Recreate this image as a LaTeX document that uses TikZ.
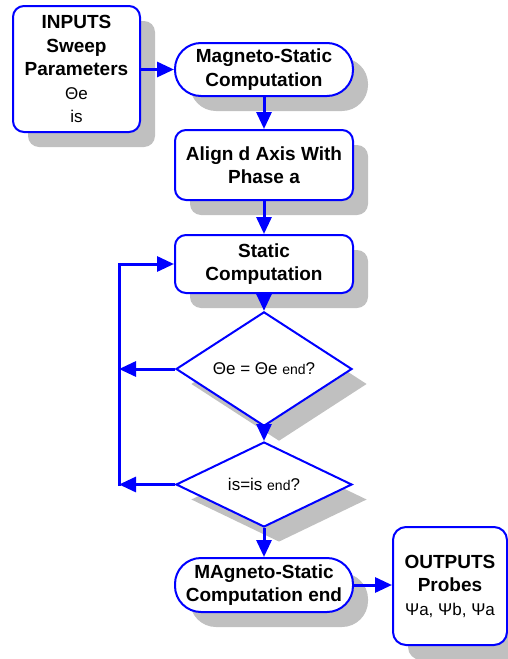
\documentclass[tikz,border=0pt]{standalone}
\usepackage{fontspec}
\setmainfont{Liberation Sans}
\usetikzlibrary{arrows.meta,shapes.geometric,shadows}
\definecolor{flowblue}{RGB}{0,0,255}
\definecolor{shadegray}{RGB}{192,192,192}
\newcommand{\plainline}{\mdseries\fontsize{17}{23.5}\selectfont}

\begin{document}
\begin{tikzpicture}[x=1pt,y=-1pt,
  shadowed/.style={drop shadow={shadow xshift=15pt,shadow yshift=-15pt,fill=shadegray,opacity=1}},
  box/.style={draw=flowblue,line width=2pt,fill=white,rounded corners=11pt,inner sep=2pt,
    align=center,shadowed,font=\fontsize{19}{23.5}\selectfont\bfseries},
  stadium/.style={box,rounded corners=26pt},
  decision/.style={diamond,draw=flowblue,line width=2pt,fill=white,inner sep=0pt,
    minimum width=176pt,minimum height=85pt,shadowed,align=center,
    font=\fontsize{17}{20}\selectfont},
  flow/.style={draw=flowblue,line width=3pt,-{Triangle[length=17pt,width=15pt]}}
]
\useasboundingbox (0,0) rectangle (508,659);

% process blocks
\node[box,minimum width=127pt,minimum height=126pt] (inp) at (76.5,69)
  {INPUTS\\Sweep\\Parameters\\\plainline Θe\\\plainline is};
\node[stadium,minimum width=178pt,minimum height=53pt] (mag) at (264,69.5)
  {Magneto-Static\\Computation};
\node[box,minimum width=178pt,minimum height=70pt] (aln) at (264,165)
  {Align d Axis With\\Phase a};
\node[box,minimum width=178pt,minimum height=58pt] (stat) at (264,264)
  {Static\\Computation};
\node[decision] (d1) at (264,369) {Θe = Θe {\fontsize{14}{14}\selectfont end}?};
\node[decision] (d2) at (264,484.5) {is=is {\fontsize{14}{14}\selectfont end}?};
\node[stadium,minimum width=178pt,minimum height=54pt] (fin) at (264,585)
  {MAgneto-Static\\Computation end};
\node[box,minimum width=114pt,minimum height=118pt,rounded corners=13pt] (out) at (450,586)
  {OUTPUTS\\Probes\\\plainline Ψa, Ψb, Ψa};

% main flow
\draw[flow] (inp.east |- mag) -- (mag.west);
\draw[flow] (mag.south) -- (aln.north);
\draw[flow] (aln.south) -- (stat.north);
\draw[flow] (stat.south) -- (d1.north);
\draw[flow] (d1.south) -- (d2.north);
\draw[flow] (d2.south) -- (fin.north);
\draw[flow] (fin.east) -- (out.west |- fin.east);

% loop back to the static computation
\coordinate (lx) at (119,0);
\draw[flow] (d1.west) -- (d1.west -| lx);
\draw[flow] (d2.west) -- (d2.west -| lx);
\draw[flow] ([yshift=-1.5pt]d2.west -| lx) -- (lx |- stat.west) -- (stat.west);
\end{tikzpicture}
\end{document}
